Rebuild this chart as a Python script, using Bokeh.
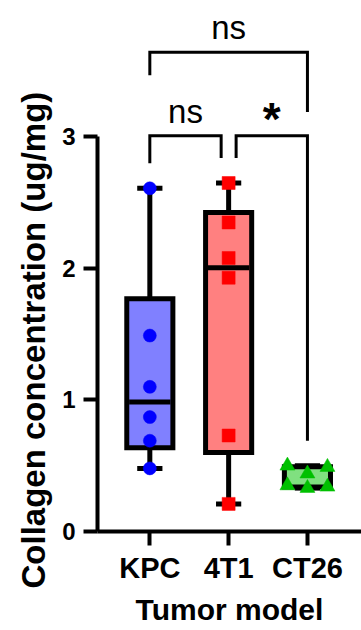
import numpy as np
from bokeh.plotting import figure
from bokeh.models import FixedTicker, Range1d, Title
from bokeh.core.properties import value
from bokeh.embed import file_html
from bokeh.resources import INLINE

# ---------------- data ----------------
categories = ["KPC", "4T1", "CT26"]
kpc_values = [2.61, 1.49, 1.10, 0.87, 0.69, 0.48]
t41_values = [2.65, 2.35, 2.08, 1.93, 0.73, 0.21]
ct26_values = [0.50, 0.49, 0.44, 0.35, 0.34, 0.33]
y_tick_values = [0, 1, 2, 3]
y_title = "Collagen concentration (ug/mg)"
x_title = "Tumor model"
comparisons = [("KPC", "4T1", "ns"), ("4T1", "CT26", "*"), ("KPC", "CT26", "ns")]

groups = [kpc_values, t41_values, ct26_values]

# ---------------- style ----------------
FONT = "Liberation Sans"
fills = ["#8080FF", "#FF8080", "#80E080"]
point_colors = ["#0000FF", "#FF0000", "#00C000"]
markers = ["circle", "square", "triangle"]
marker_sizes = [13, 13, 15]
median_colors = ["black", "black", "#80E080"]
median_widths = [5, 5, 4]

W, H = 361, 630
LEFT, BOTTOM = 97, 99
X0, X1 = 0.336, 3.686
Y0, Y1 = 0.0, 4.038
px_x = (W - LEFT) / (X1 - X0)
px_y = (H - BOTTOM) / (Y1 - Y0)

BOX_HALF = 0.2925
CAP_HALF = 0.16

p = figure(width=W, height=H, output_backend="svg", toolbar_location=None,
           x_range=Range1d(X0, X1), y_range=Range1d(Y0, Y1),
           min_border_left=LEFT, min_border_right=0, min_border_top=0,
           min_border_bottom=BOTTOM)
p.outline_line_color = None
p.grid.visible = False
p.background_fill_color = "white"
p.border_fill_color = "white"


def swarm(vals, size=11.0, step=0.254):
    placed = []
    offs = [0.0] * len(vals)
    order = sorted(range(len(vals)), key=lambda i: vals[i])
    for i in order:
        dx = 0.0
        for k in [0, 1, -1, 2, -2, 3, -3]:
            dx = k * step
            ok = all(abs((dx - pdx) * px_x) >= size or abs((vals[i] - pv) * px_y) >= size
                     for pdx, pv in placed)
            if ok:
                break
        placed.append((dx, vals[i]))
        offs[i] = dx
    return offs


tops = []
for i, vals in enumerate(groups):
    x = i + 1
    v = np.asarray(vals, dtype=float)
    q1, med, q3 = np.percentile(v, [25, 50, 75], method="weibull")
    lo, hi = v.min(), v.max()
    tops.append(hi)
    # whiskers
    p.segment(x0=[x, x], y0=[q3, q1], x1=[x, x], y1=[hi, lo], line_color="black", line_width=5)
    p.segment(x0=[x - CAP_HALF, x - CAP_HALF], y0=[hi, lo], x1=[x + CAP_HALF, x + CAP_HALF], y1=[hi, lo],
              line_color="black", line_width=5)
    # box
    p.quad(left=[x - BOX_HALF], right=[x + BOX_HALF], bottom=[q1], top=[q3],
           fill_color=fills[i], line_color="black", line_width=5, line_join="miter")
    # median
    p.segment(x0=[x - BOX_HALF + 0.03], y0=[med], x1=[x + BOX_HALF - 0.03], y1=[med],
              line_color=median_colors[i], line_width=median_widths[i])

for i, vals in enumerate(groups):
    x = i + 1
    offs = swarm(vals)
    p.scatter(x=[x + o for o in offs], y=vals, marker=markers[i], size=marker_sizes[i],
              fill_color=point_colors[i], line_color=point_colors[i], line_width=0.5)

# ---------------- significance brackets ----------------
LOW_LEVEL = 3.01
HIGH_LEVEL = 3.645
SHARED_GAP = 0.095
LEG_GAP = 0.19
TEXT_GAP = 0.185
idx = {c: k + 1 for k, c in enumerate(categories)}
adjacent = [cmp for cmp in comparisons if abs(idx[cmp[1]] - idx[cmp[0]]) == 1]
for a, b, lab in comparisons:
    xa, xb = idx[a], idx[b]
    if xb - xa == 1:
        level = LOW_LEVEL
        shared = [c for c in (a, b) if sum(c in cmp[:2] for cmp in adjacent) > 1]
        xl = xa + (SHARED_GAP if a in shared else 0)
        xr = xb - (SHARED_GAP if b in shared else 0)
        legl = tops[xa - 1] + LEG_GAP
        legr = tops[xb - 1] + LEG_GAP
    else:
        level = HIGH_LEVEL
        xl, xr = xa, xb
        legl = HIGH_LEVEL - 0.175
        legr = LOW_LEVEL + 0.18
    p.line(x=[xl, xl, xr, xr], y=[legl, level, level, legr], line_color="black",
           line_width=3, line_join="miter")
    if lab == "*":
        p.text(x=[(xl + xr) / 2], y=[level + TEXT_GAP], text=[lab], text_align="center",
               text_baseline="alphabetic", text_font=value(FONT), text_font_style="bold",
               text_font_size="46px", text_color="black", y_offset=8)
    else:
        p.text(x=[(xl + xr) / 2], y=[level + TEXT_GAP], text=[lab], text_align="center",
               text_baseline="alphabetic", text_font=value(FONT), text_font_size="33px",
               text_color="black")

# ---------------- axes ----------------
for ax in (p.xaxis[0], p.yaxis[0]):
    ax.axis_line_width = 4
    ax.axis_line_color = "black"
    ax.major_tick_line_width = 4
    ax.major_tick_line_color = "black"
    ax.major_tick_out = 14
    ax.major_tick_in = 0
    ax.minor_tick_line_color = None
    ax.major_label_text_font = FONT
    ax.major_label_text_font_style = "bold"
    ax.major_label_text_color = "black"
    ax.axis_label_text_font = FONT
    ax.axis_label_text_font_style = "bold"
    ax.axis_label_text_color = "black"

p.yaxis.ticker = FixedTicker(ticks=y_tick_values)
p.yaxis.bounds = (y_tick_values[0], y_tick_values[-1])
p.yaxis.major_label_text_font_size = "24px"
p.yaxis.major_label_standoff = 8

# y title: starts below the x axis line, like the original (left side: positive offset = up)
ytitle = Title(text=y_title, align="left", offset=-57,
               text_font=FONT, text_font_style="bold", text_font_size="33px",
               text_color="black", standoff=16)
p.add_layout(ytitle, "left")

p.xaxis.ticker = FixedTicker(ticks=[k + 1 for k in range(len(categories))])
p.xaxis.major_label_overrides = {k + 1: c for k, c in enumerate(categories)}
p.xaxis.major_label_text_font_size = "29px"
p.xaxis.major_label_standoff = 6
p.xaxis.axis_label = x_title
p.xaxis.axis_label_text_font_size = "30px"
p.xaxis.axis_label_standoff = 6

open("out.html", "w").write(file_html(p, INLINE))
